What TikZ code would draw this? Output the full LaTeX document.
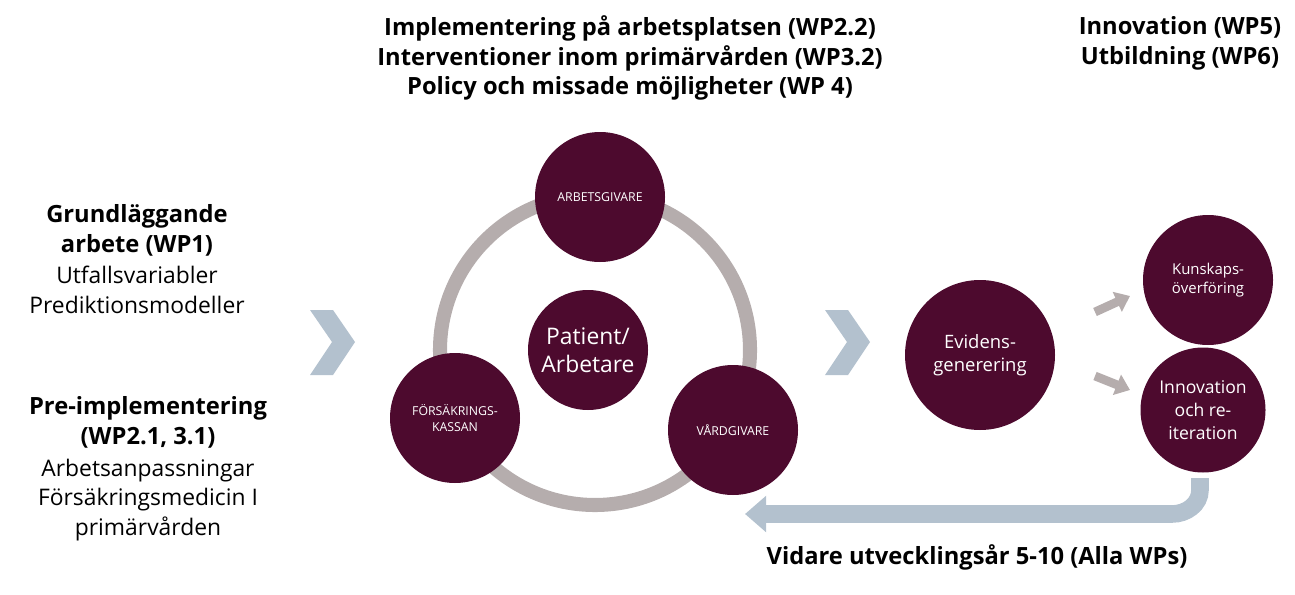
\documentclass[tikz,border=0pt]{standalone}
\usepackage{fontspec}
\setmainfont{Open Sans}
\usetikzlibrary{arrows.meta}
\definecolor{plum}{HTML}{4D0A2E}
\definecolor{ring}{HTML}{B5ADAD}
\definecolor{blu}{HTML}{B3C1CE}
\begin{document}
\begin{tikzpicture}[x=0.02cm,y=-0.02cm,
  dot/.style={circle,fill=plum,text=white,align=center,inner sep=0pt},
  hd/.style={align=center,font=\fontsize{13.5}{17}\selectfont\bfseries},
  bd/.style={align=center,font=\fontsize{13}{17}\selectfont},
  chev/.style={fill=blu,draw=none}]
\useasboundingbox (0,0) rectangle (1295,595);
% ring
\draw[ring,line width=8pt] (595,350) circle (155);
\node[dot,minimum size=130*0.02cm,font=\fontsize{7}{9}\selectfont] (a) at (600,197) {ARBETSGIVARE};
\node[dot,minimum size=130*0.02cm,font=\fontsize{7}{9}\selectfont] (f) at (455,418) {FÖRSÄKRINGS-\\KASSAN};
\node[dot,minimum size=130*0.02cm,font=\fontsize{7}{9}\selectfont] (v) at (733,430) {VÅRDGIVARE};
\node[dot,minimum size=120*0.02cm,font=\fontsize{13}{16}\selectfont] (p) at (588,350) {Patient/\\Arbetare};
\node[dot,minimum size=150*0.02cm,font=\fontsize{10.5}{13}\selectfont] (e) at (980,355) {Evidens-\\generering};
\node[dot,minimum size=130*0.02cm,font=\fontsize{8.5}{11}\selectfont] (k) at (1208,280) {Kunskaps-\\överföring};
\node[dot,minimum size=125*0.02cm,font=\fontsize{10}{13}\selectfont] (i) at (1203,410) {Innovation\\och re-\\iteration};
% chevrons
\fill[chev] (310,310) -- (333,310) -- (355,342) -- (333,375) -- (310,375) -- (332,342) -- cycle;
\fill[chev] (825,310) -- (848,310) -- (870,342) -- (848,375) -- (825,375) -- (847,342) -- cycle;
% small arrows
\coordinate (s1) at (1095,312); \coordinate (t1) at (1130,296);
\coordinate (s2) at (1095,376); \coordinate (t2) at (1130,390);
\draw[ring,line width=5pt,-{Triangle[length=8pt,width=12pt]}] (s1) -- (t1);
\draw[ring,line width=5pt,-{Triangle[length=8pt,width=12pt]}] (s2) -- (t2);
% return arrow
\coordinate (r0) at (1200,478); \coordinate (r1) at (745,514);
\draw[blu,line width=10pt,-{Triangle[length=12pt,width=20pt]}] (r0) -- (1200,490) to[out=-90,in=0] (1172,514) -- (r1);
% texts
\node[hd] (t) at (630,58) {Implementering på arbetsplatsen (WP2.2)\\Interventioner inom primärvården (WP3.2)\\Policy och missade möjligheter (WP 4)};
\node[hd] (w) at (1180,43) {Innovation (WP5)\\Utbildning (WP6)};
\node[hd] (g) at (137,230) {Grundläggande\\arbete (WP1)};
\node[bd] (g2) at (137,290) {Utfallsvariabler\\Prediktionsmodeller};
\node[hd] (pi) at (148,422) {Pre-implementering\\(WP2.1, 3.1)};
\node[bd] (pi2) at (148,500) {Arbetsanpassningar\\Försäkringsmedicin I\\primärvården};
\node[hd] (vu) at (977,557) {Vidare utvecklingsår 5-10 (Alla WPs)};
\end{tikzpicture}
\end{document}
